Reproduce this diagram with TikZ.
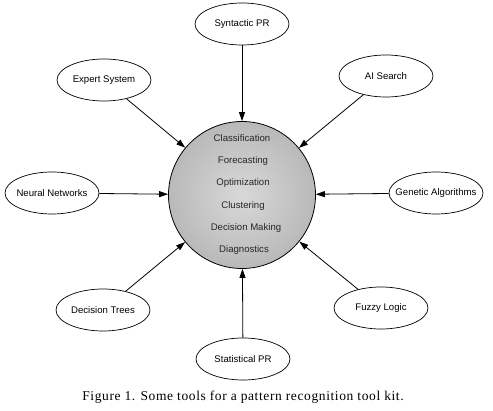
\documentclass[tikz,border=0pt]{standalone}
\usepackage{fontspec}
\setmainfont{Liberation Serif}
\setsansfont{Liberation Sans}
\usetikzlibrary{arrows.meta,shapes.geometric}

\begin{document}
\begin{tikzpicture}[
  x=1pt,y=-1pt,
  every node/.style={font=\sffamily\fontsize{9.6}{11}\selectfont},
  tool/.style={draw,ellipse,line width=0.7pt,minimum width=94pt,
               minimum height=42pt,inner xsep=-10pt,inner ysep=0pt},
  core/.style={draw,circle,line width=0.8pt,minimum size=147pt,inner sep=0pt,
               inner color=gray!30,outer color=gray!55},
  feed/.style={line width=0.8pt,-{Triangle[length=9pt,width=6pt]}},
  task/.style={text=black!85},
]
\useasboundingbox (0,0) rectangle (493,411);

%% Central tool kit
\node[core] (kit) at (242,195) {};
\node[task] (t1) at (242,138) {Classification};
\node[task] (t2) at (243,161) {Forecasting};
\node[task] (t3) at (243,183) {Optimization};
\node[task] (t4) at (243,206) {Clustering};
\node[task] (t5) at (246,228) {Decision Making};
\node[task] (t6) at (244,250) {Diagnostics};

%% Surrounding tools
\node[tool] (syn) at (242,24)  {Syntactic PR};
\node[tool] (exp) at (104,80)  {Expert System};
\node[tool] (ais) at (386,76)  {AI Search};
\node[tool] (nn)  at (52,193)  {Neural Networks};
\node[tool] (ga)  at (436,193) {Genetic Algorithms};
\node[tool] (dt)  at (103,310) {Decision Trees};
\node[tool] (fl)  at (381,308) {Fuzzy Logic};
\node[tool] (st)  at (243,359) {Statistical PR};

%% Arrows into the kit
\foreach \t in {syn,exp,ais,nn,ga,dt,fl,st}
  \draw[feed] (\t) -- (kit);

%% Caption
\node[font=\rmfamily\fontsize{13.5}{15}\selectfont\addfontfeature{LetterSpace=4.5}]
  (cap) at (243,397)
  {Figure 1. Some tools for a pattern recognition tool kit.};

\end{tikzpicture}
\end{document}
